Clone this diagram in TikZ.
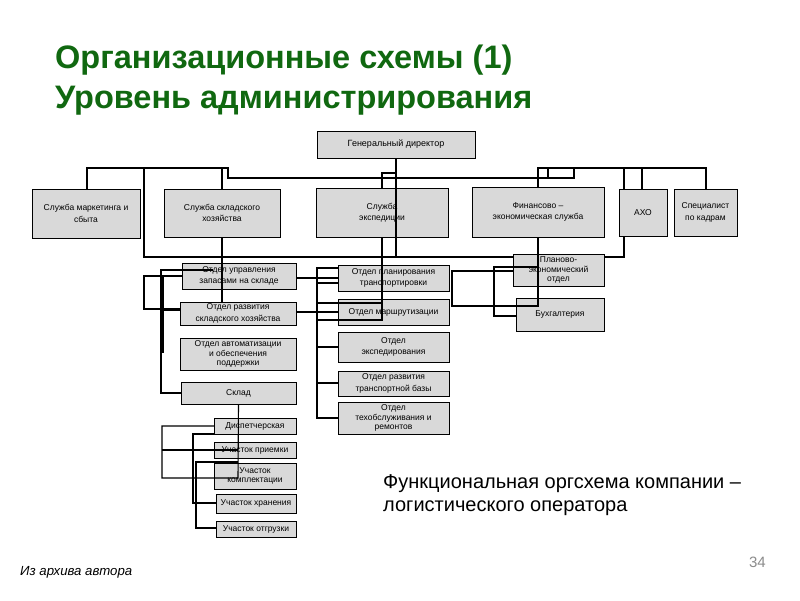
\documentclass[tikz,border=0pt]{standalone}
\usepackage{fontspec}
\setmainfont{Liberation Sans}
\definecolor{titlegreen}{RGB}{16,104,16}
\definecolor{boxgray}{RGB}{217,217,217}
\definecolor{pagegray}{RGB}{140,140,140}
\tikzset{
  box/.style={draw=black, fill=boxgray, line width=0.9pt, align=center, inner sep=1pt,
              font=\fontsize{8.5}{11.5}\selectfont},
  smallbox/.style={box, font=\fontsize{8.5}{9.8}\selectfont},
  wire/.style={draw=black, line width=1.1pt},
}
\begin{document}
\begin{tikzpicture}[x=1pt,y=-1pt]
\useasboundingbox (0,0) rectangle (800,600);
\fill[white] (0,0) rectangle (800,600);

% title
\node[anchor=base west, inner sep=0, text=titlegreen, font=\fontsize{32.5}{38}\selectfont\bfseries] (t1line) at (55,68) {Организационные схемы (1)};
\node[anchor=base west, inner sep=0, text=titlegreen, font=\fontsize{32.5}{38}\selectfont\bfseries] (t2line) at (55,108) {Уровень администрирования};

% wires drawn below boxes
\draw[wire] (87,189) -- (87,168) -- (228,168) -- (228,178) -- (574,178) -- (574,168) -- (548,168) -- (548,178);
\draw[wire] (538,187) -- (538,168) -- (706,168) -- (706,189);
\draw[wire] (642,168) -- (642,189);
\draw[wire] (144,168) -- (144,257) -- (513,257);
\draw[wire] (604,257) -- (624,257) -- (624,168);
\draw[wire] (222,168) -- (222,189);
\draw[wire] (382,188) -- (382,173) -- (396,173);

% boxes
\node[box, minimum width=158, minimum height=27, font=\fontsize{9}{11}\selectfont] (gd) at (396,144.5) {Генеральный директор};
\node[box, minimum width=108, minimum height=49] (mk) at (86,213.5) {Служба маркетинга и\\сбыта};
\node[box, minimum width=116, minimum height=48] (sk) at (222,213) {Служба складского\\хозяйства};
\node[box, minimum width=132, minimum height=49] (ex) at (382,212.5) {Служба\\экспедиции};
\node[box, minimum width=132, minimum height=50] (fin) at (538,212) {Финансово –\\экономическая служба};
\node[box, minimum width=48, minimum height=47] (axo) at (643,212.5) {АХО};
\node[box, minimum width=63, minimum height=47] (hr) at (705.5,212.5) {Специалист\\по кадрам};
\node[smallbox, minimum width=91, minimum height=32] (pe) at (558.5,270) {Планово-\\экономический\\отдел};
\node[box, minimum width=88, minimum height=33] (bu) at (560,314.5) {Бухгалтерия};

\node[box, minimum width=114, minimum height=26] (z1) at (239,276) {Отдел управления\\запасами на складе};
\node[box, minimum width=116, minimum height=23] (z2) at (238,313.5) {Отдел развития\\складского хозяйства};
\node[smallbox, minimum width=116, minimum height=32] (z3) at (238,354) {Отдел автоматизации\\и обеспечения\\поддержки};
\node[box, minimum width=115, minimum height=22] (z4) at (238.5,393) {Склад};

\node[box, minimum width=111, minimum height=26] (tp1) at (393.5,278) {Отдел планирования\\транспортировки};
\node[box, minimum width=111, minimum height=26] (tp2) at (393.5,312) {Отдел маршрутизации};
\node[box, minimum width=111, minimum height=30] (tp3) at (393.5,347) {Отдел\\экспедирования};
\node[box, minimum width=111, minimum height=25] (tp4) at (393.5,383.5) {Отдел развития\\транспортной базы};
\node[smallbox, minimum width=111, minimum height=32] (tp5) at (393.5,418) {Отдел\\техобслуживания и\\ремонтов};

\node[box, minimum width=82, minimum height=16] (u1) at (255,426) {Диспетчерская};
\node[box, minimum width=82, minimum height=16] (u2) at (255,450) {Участок приемки};
\node[smallbox, minimum width=82, minimum height=26] (u3) at (255,476) {Участок\\комплектации};
\node[box, minimum width=80, minimum height=19] (u4) at (256,503.5) {Участок хранения};
\node[box, minimum width=80, minimum height=16] (u5) at (256,529) {Участок отгрузки};

% wires drawn over boxes
\draw[wire] (gd.south) -- (396,257);
\draw[wire] (222,237) -- (222,302);
\draw[wire] (213,270) -- (161,270) -- (161,393) -- (z4.west);
\draw[wire] (161,310) -- (180,310);
\draw[wire] (163,276) -- (163,353);
\draw[wire] (182,276) -- (144,276) -- (144,309) -- (180,309);
\draw[wire] (296,278) -- (338,278);
\draw[wire] (296,312) -- (338,312);
\draw[wire] (338,268) -- (317,268) -- (317,418) -- (338,418);
\draw[wire] (317,283) -- (338,283);
\draw[wire] (317,347) -- (338,347);
\draw[wire] (317,383) -- (338,383);
\draw[wire] (ex.south) -- (382,320) -- (317,320);
\draw[wire] (317,303) -- (382,303);
\draw[wire] (fin.south) -- (538,306) -- (452,306) -- (452,271) -- (513,271);
\draw[wire] (538,267) -- (494,267) -- (494,316) -- (516,316);
\draw[wire] (z4.south) -- (238,478) -- (162,478) -- (162,426) -- (214,426);
\draw[wire] (162,450) -- (238,450);
\draw[wire] (214,434) -- (193,434) -- (193,503) -- (216,503);
\draw[wire] (238,462) -- (196,462) -- (196,528) -- (216,528);

% caption
\node[anchor=base west, inner sep=0, font=\fontsize{20}{24}\selectfont] (cap1) at (383,488) {Функциональная оргсхема компании –};
\node[anchor=base west, inner sep=0, font=\fontsize{20}{24}\selectfont] (cap2) at (383,511) {логистического оператора};

% footer
\node[anchor=base west, inner sep=0, font=\fontsize{13.2}{16}\selectfont\itshape] (src) at (20,575) {Из архива автора};
\node[anchor=base east, inner sep=0, text=pagegray, font=\fontsize{15}{18}\selectfont] (pg) at (766,567) {34};
\end{tikzpicture}
\end{document}
